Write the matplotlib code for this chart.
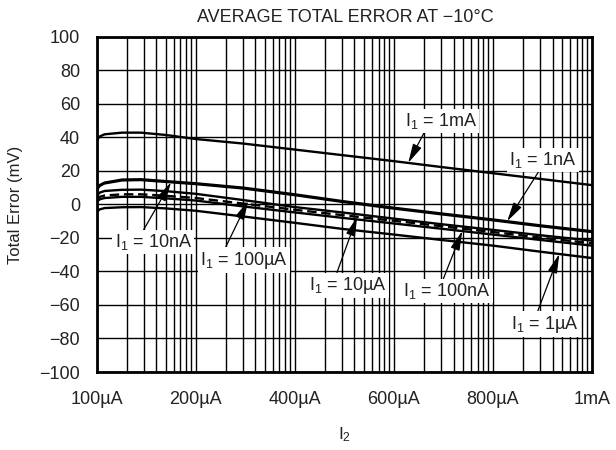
import numpy as np
import matplotlib
matplotlib.use("Agg")
import matplotlib.pyplot as plt
from matplotlib.ticker import FixedLocator, NullFormatter, LogLocator

plt.rcParams['font.family'] = ['Liberation Sans', 'DejaVu Sans']
plt.rcParams['mathtext.fontset'] = 'custom'
plt.rcParams['mathtext.rm'] = 'Liberation Sans'
plt.rcParams['mathtext.it'] = 'Liberation Sans:italic'

# ---- data ----
x_pts = [1, 1.07, 1.2, 1.8, 2.8, 5, 10, 30, 100, 300, 1000, 3000, 10000, 30000, 100000]
err_1mA = [38, 40.5, 41.8, 42.8, 42.8, 41.4, 39, 36.3, 32.7, 29.4, 25.8, 22.3, 18.6, 15.2, 11.5]
err_1nA = [9, 11.5, 13, 14.8, 15, 13.9, 12.6, 10, 6, 2, -2, -5.4, -9, -12.5, -16]
err_10nA = [8.5, 11, 12.5, 14.3, 14.5, 13.4, 12.1, 9.5, 5.5, 1.5, -2.5, -5.9, -9.5, -13, -16.5]
err_100uA = [5, 7, 8, 8.7, 8.8, 7.9, 6.3, 2.6, -1.6, -4.8, -8.5, -11.8, -15.2, -18.4, -21.6]
err_10uA = [3, 4.5, 5.3, 6, 6, 5.1, 3.8, 0.5, -3.2, -6.4, -9.8, -13, -16.5, -19.8, -23.2]
err_100nA = [1.5, 3, 3.8, 4.5, 4.5, 3.6, 2.3, -1.2, -4.8, -8, -11.4, -14.5, -18, -21.2, -24.6]
err_1uA = [-4.5, -3, -2.2, -1.7, -1.6, -2.4, -3.8, -7.2, -11, -14.6, -18, -21.2, -24.6, -28.2, -32]

x_ticks = [1, 10, 100, 1000, 10000, 100000]
x_tick_labels = ['100µA', '200µA', '400µA', '600µA', '800µA', '1mA']
y_ticks = [-100, -80, -60, -40, -20, 0, 20, 40, 60, 80, 100]

series = [
    ('1mA', err_1mA, '-'),
    ('1nA', err_1nA, '-'),
    ('10nA', err_10nA, '-'),
    ('100µA', err_100uA, '-'),
    ('10µA', err_10uA, '--'),
    ('100nA', err_100nA, '-'),
    ('1µA', err_1uA, '-'),
]

# label layout: (name, tip x, text position in axes fraction, arrow start on box)
label_layout = [
    ('1mA', 1396, (0.695, 0.749), (0.28, 0.0)),
    ('1nA', 13930, (0.901, 0.632), (0.45, 0.0)),
    ('10nA', 5.63, (0.114, 0.388), (0.36, 1.0)),
    ('100µA', 33.8, (0.297, 0.334), (0.28, 1.0)),
    ('10µA', 426, (0.507, 0.259), (0.35, 1.0)),
    ('100nA', 4900, (0.707, 0.242), (0.45, 1.0)),
    ('1µA', 46800, (0.905, 0.143), (0.38, 1.0)),
]

fig = plt.figure(figsize=(6.16, 4.5), dpi=100)
ax = fig.add_axes([0.157, 0.1733, 0.804, 0.745])

data = {}
for name, vals, ls in series:
    data[name] = vals
    ax.plot(x_pts, vals, color='black', lw=1.7, ls=ls,
            dashes=(4, 2) if ls == '--' else (None, None), zorder=3)

ax.set_xscale('log')
ax.set_xlim(1, 100000)
ax.set_ylim(-100, 100)
ax.xaxis.set_major_locator(FixedLocator(x_ticks))
ax.set_xticklabels(x_tick_labels)
ax.xaxis.set_minor_locator(LogLocator(base=10, subs=np.arange(2, 10)))
ax.xaxis.set_minor_formatter(NullFormatter())
ax.set_yticks(y_ticks)
ax.tick_params(axis='both', which='both', length=0, labelsize=13, colors='#222222')
ax.tick_params(axis='x', pad=14)
ax.tick_params(axis='y', pad=12)
ax.grid(True, which='both', color='black', lw=1.0)
for s in ax.spines.values():
    s.set_linewidth(2.0)

ax.set_ylabel('Total Error (mV)', fontsize=12, labelpad=12, color='#222222')
ax.set_xlabel(r'$\mathrm{I_2}$', fontsize=12.5, labelpad=12, color='#222222')
fig.text(0.56, 0.96, 'AVERAGE TOTAL ERROR AT \u221210\u00b0C', ha='center',
         va='center', fontsize=13, color='#222222')

lx = np.log10(x_pts)
for name, tipx, (fx, fy), rel in label_layout:
    tipy = np.interp(np.log10(tipx), lx, data[name])
    ax.annotate(r'$\mathrm{I_1}$ = ' + name, xy=(tipx, tipy), xycoords='data',
                xytext=(fx, fy), textcoords='axes fraction',
                ha='center', va='center', fontsize=13, color='#222222',
                bbox=dict(boxstyle='square,pad=0.12', fc='white', ec='none'),
                arrowprops=dict(arrowstyle='-|>,head_length=0.9,head_width=0.22',
                                color='black', lw=0.9, shrinkA=0, shrinkB=0,
                                relpos=rel),
                zorder=5)

fig.savefig('out.png', dpi=100)
